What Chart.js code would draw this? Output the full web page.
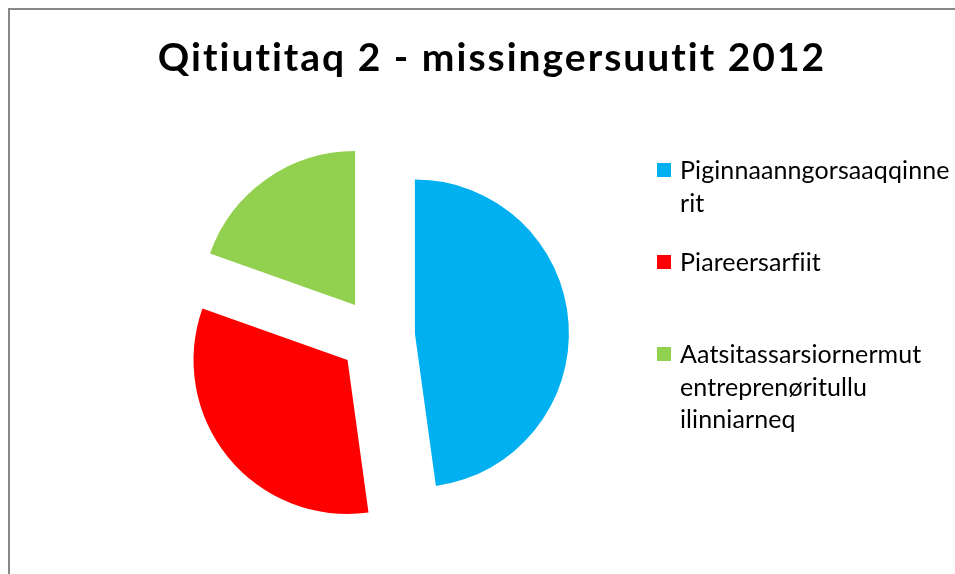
<!DOCTYPE html>
<html>
<head>
<meta charset="utf-8">
<script src="https://cdn.jsdelivr.net/npm/chart.js@4.4.0/dist/chart.umd.min.js"></script>
<style>
    html, body { margin: 0; padding: 0; background: #ffffff; }
    #wrap { width: 955px; height: 574px; position: relative; }
</style>
</head>
<body>
<div id="wrap"><canvas id="pieChart"></canvas></div>
<script>
// --- 1. DADOS ---
const TITULO = 'Qitiutitaq 2 - missingersuutit 2012';
const CATEGORIAS = ['Piginnaanngorsaaqqinnerit', 'Piareersarfiit', 'Aatsitassarsiornermut entreprenøritullu ilinniarneq'];
// texto da legenda quebrado em linhas como no original
const LEGENDA_LINHAS = [
    ['Piginnaanngorsaaqqinne', 'rit'],
    ['Piareersarfiit'],
    ['Aatsitassarsiornermut', 'entreprenøritullu', 'ilinniarneq']
];
const VALORES = [22, 15, 9];
const CORES = ['#00B0F0', '#FF0000', '#92D050'];

const FONTE = 'Lato, "Open Sans", "Liberation Sans", sans-serif';
const EXPLODIR = 38; // deslocamento de cada fatia (px)

// --- 2. PLUGINS ---
// desloca cada fatia ao longo do seu ângulo médio (pizza "explodida")
const explodePlugin = {
    id: 'explode',
    beforeDatasetsDraw(chart) {
        const meta = chart.getDatasetMeta(0);
        meta.data.forEach(arc => {
            const mid = (arc.startAngle + arc.endAngle) / 2;
            arc._x0 = arc.x;
            arc._y0 = arc.y;
            arc.x += Math.cos(mid) * EXPLODIR;
            arc.y += Math.sin(mid) * EXPLODIR;
        });
    },
    afterDatasetsDraw(chart) {
        const meta = chart.getDatasetMeta(0);
        meta.data.forEach(arc => {
            arc.x = arc._x0;
            arc.y = arc._y0;
        });
    }
};

// moldura, título e legenda no estilo do Excel
const decorPlugin = {
    id: 'decor',
    beforeDraw(chart) {
        const ctx = chart.ctx;
        ctx.save();
        ctx.strokeStyle = '#878787';
        ctx.lineWidth = 2;
        ctx.strokeRect(9, 9, chart.width + 20, chart.height + 20);
        ctx.restore();
    },
    afterDraw(chart) {
        const ctx = chart.ctx;
        ctx.save();
        // título
        ctx.fillStyle = '#000000';
        ctx.font = 'bold 39px ' + FONTE;
        ctx.letterSpacing = '2px';
        ctx.textAlign = 'center';
        ctx.textBaseline = 'alphabetic';
        ctx.fillText(TITULO, 492, 71);

        // legenda
        const topos = [179, 271, 363];
        ctx.textAlign = 'left';
        ctx.font = '25px ' + FONTE;
        ctx.letterSpacing = '0.1px';
        LEGENDA_LINHAS.forEach((linhas, i) => {
            ctx.fillStyle = CORES[i];
            ctx.fillRect(657, topos[i] - 16, 14, 14);
            ctx.fillStyle = '#000000';
            linhas.forEach((txt, j) => {
                ctx.fillText(txt, 680, topos[i] + j * 32.5);
            });
        });
        ctx.restore();
    }
};

// --- 3. GRÁFICO ---
new Chart(document.getElementById('pieChart').getContext('2d'), {
    type: 'pie',
    data: {
        labels: CATEGORIAS,
        datasets: [{
            data: VALORES,
            backgroundColor: CORES,
            borderWidth: 0
        }]
    },
    options: {
        responsive: true,
        maintainAspectRatio: false,
        animation: false,
        layout: {
            padding: { top: 182, left: 223, right: 424, bottom: 84 }
        },
        plugins: {
            legend: { display: false },
            title: { display: false },
            tooltip: { enabled: false }
        }
    },
    plugins: [explodePlugin, decorPlugin]
});
</script>
</body>
</html>
